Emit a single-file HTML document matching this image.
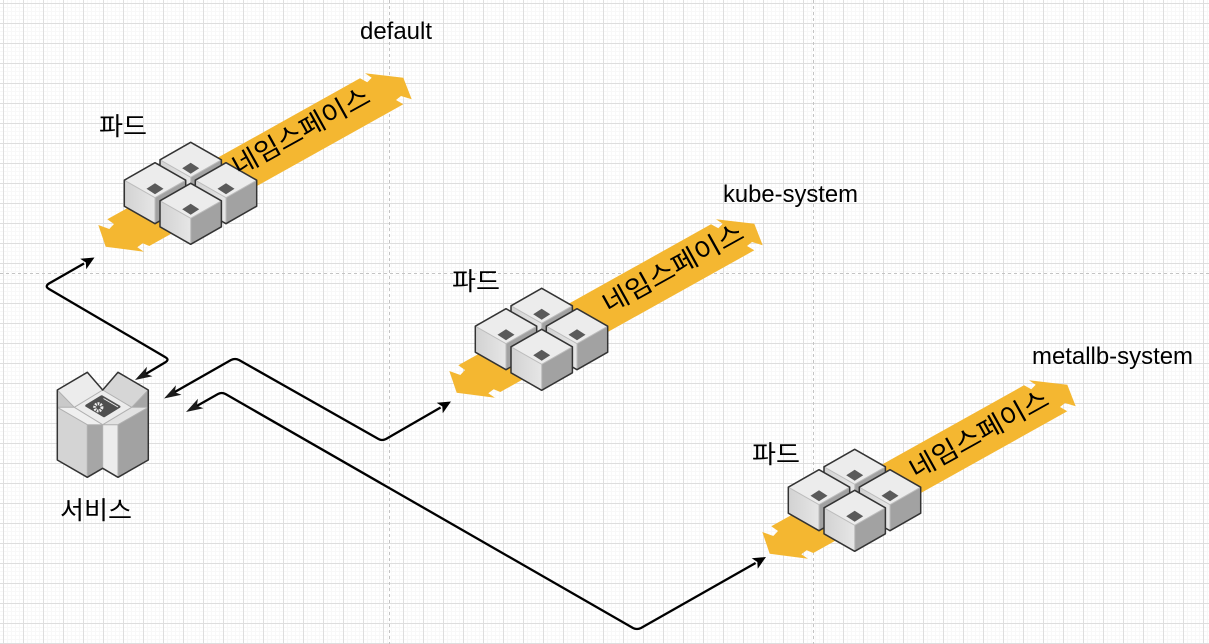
<!DOCTYPE html>
<html><head><meta charset="utf-8">
<style>
html,body{margin:0;padding:0;background:#fff}
svg{display:block}
text{font-family:"Liberation Sans","Noto Sans CJK KR",sans-serif;fill:#000}
.k{font-family:"Noto Sans CJK KR","NanumGothic",sans-serif;font-size:25px;font-weight:400}
.b{font-family:"Noto Sans CJK KR","NanumGothic",sans-serif;font-size:26px;font-weight:400}
.e{font-size:24px}
</style></head>
<body>
<svg width="1209" height="644" viewBox="0 0 1209 644" xmlns="http://www.w3.org/2000/svg">
<defs>
<pattern id="grid" width="20" height="20" patternUnits="userSpaceOnUse" x="3" y="3">
<rect width="20" height="20" fill="#fff"/>
<path d="M4.5 0V20M8.5 0V20M12.5 0V20M16.5 0V20M0 4.5H20M0 8.5H20M0 12.5H20M0 16.5H20" stroke="#f8f8f8" stroke-width="1" fill="none"/>
<path d="M.5 0V20M0 .5H20" stroke="#dedede" stroke-width="1" fill="none"/>
</pattern>
<linearGradient id="lf" x1="0" y1="0" x2="1" y2="0"><stop offset="0" stop-color="#d2d2d2"/><stop offset="1" stop-color="#e6e6e6"/></linearGradient>
<g id="cube">
<polygon points="0,0 -30.7,17.5 0,35 30.7,17.5" fill="#ececec"/>
<polygon points="-30.7,17.5 0,35 0,61 -30.7,43.5" fill="url(#lf)"/>
<polygon points="30.7,17.5 0,35 0,61 30.7,43.5" fill="#a2a2a2"/>
<polygon points="0,20.5 8.5,26 0,31.5 -8.5,26" fill="#5a5a5a"/>
<path d="M-30.7 17.5L0 35L30.7 17.5M0 35V61" fill="none" stroke="#bdbdbd" stroke-width="1"/>
<polygon points="0,0 -30.7,17.5 -30.7,43.5 0,61 30.7,43.5 30.7,17.5" fill="none" stroke="#333" stroke-width="1.5" stroke-linejoin="round"/>
</g>
<g id="pod">
<polygon points="98.3,225 109.3,229 114,224 107.3,219.3 360,78.3 367.3,82.3 371.7,77.7 365,73.3 403.3,77.7 411.7,99.3 401,96 396,100 403.3,104.3 149.3,246 142.7,243.3 137.3,247.3 144,251.7 105.7,246.7" fill="#f4b731"/>
<use href="#cube" x="190.7" y="142.3"/>
<use href="#cube" x="155" y="162.7"/>
<use href="#cube" x="226" y="162.7"/>
<use href="#cube" x="190.7" y="183.3"/>
</g>
<g id="ah"><polygon points="0,0 -17,-5.5 -12.5,0 -17,5.5" fill="#1a1a1a"/></g>
<g id="ah2"><polygon points="0,0 -13,-6 -10,0 -13,6" fill="#000"/></g>
</defs>
<rect width="1209" height="644" fill="url(#grid)"/>
<path d="M389.5 0V644M813.5 0V644M0 273.5H1209" stroke="#c4c4c4" stroke-width="1" stroke-dasharray="3 3" fill="none"/>

<use href="#pod"/>
<text class="b" textLength="153" lengthAdjust="spacingAndGlyphs" text-anchor="middle" transform="translate(301,131) rotate(-29) translate(0,9)">네임스페이스</text>
<text class="k" x="99" y="135" textLength="48" lengthAdjust="spacingAndGlyphs">파드</text>
<text class="e" x="360" y="39" textLength="72" lengthAdjust="spacingAndGlyphs">default</text>

<use href="#pod" x="351" y="146"/>
<text class="b" textLength="157" lengthAdjust="spacingAndGlyphs" text-anchor="middle" transform="translate(673,268) rotate(-29) translate(0,9)">네임스페이스</text>
<text class="k" x="452" y="290" textLength="48" lengthAdjust="spacingAndGlyphs">파드</text>
<text class="e" x="723" y="202" textLength="135" lengthAdjust="spacingAndGlyphs">kube-system</text>

<use href="#pod" x="664" y="307"/>
<text class="b" textLength="155" lengthAdjust="spacingAndGlyphs" text-anchor="middle" transform="translate(979,434) rotate(-29) translate(0,9)">네임스페이스</text>
<text class="k" x="752" y="463" textLength="48" lengthAdjust="spacingAndGlyphs">파드</text>
<text class="e" x="1032" y="364" textLength="161" lengthAdjust="spacingAndGlyphs">metallb-system</text>

<!-- service box -->
<g stroke-linejoin="round">
<polygon points="57.3,390 87.3,372.3 102.7,390 74.3,407.3" fill="#ececec"/>
<polygon points="102.7,390 118,372.3 148.3,390 131.7,407.3" fill="#d6d6d6"/>
<polygon points="57.3,390 74.3,407.3 57.3,407.3" fill="#c9c9c9"/>
<polygon points="148.3,390 131.7,407.3 148.3,407.3" fill="#a6a6a6"/>
<polygon points="102.7,390 74.3,407.3 102.7,424.7 131.7,407.3" fill="#ececec"/>
<polygon points="57.3,407.3 74.3,407.3 102.7,424.7 87.3,424.7" fill="#efefef"/>
<polygon points="148.3,407.3 131.7,407.3 102.7,424.7 118,424.7" fill="#e2e2e2"/>
<polygon points="57.3,407.3 87.3,424.7 87.3,477.3 57.3,460" fill="#d4d4d4"/>
<polygon points="87.3,424.7 102.7,424.7 102.7,468.3 87.3,477.3" fill="#a6a6a6"/>
<polygon points="102.7,424.7 118,424.7 118,477.3 102.7,468.3" fill="#ececec"/>
<polygon points="118,424.7 148.3,407.3 148.3,460 118,477.3" fill="#a2a2a2"/>
<path d="M57.3 390L74.3 407.3M148.3 390L131.7 407.3M57.3 407.3H74.3L102.7 424.7L131.7 407.3H148.3M57.3 407.3L87.3 424.7H118L148.3 407.3M87.3 424.7V477.3M118 424.7V477.3M102.7 424.7V468.3M74.3 407.3L102.7 390L131.7 407.3" fill="none" stroke="#b0b0b0" stroke-width="1"/>
<polygon points="57.3,390 87.3,372.3 102.7,390 118,372.3 148.3,390 148.3,460 118,477.3 102.7,468.3 87.3,477.3 57.3,460" fill="none" stroke="#333" stroke-width="1.5"/>
<polygon points="86.5,405.7 101.7,396.5 119.2,406.7 104,416" fill="#4f4f4f" stroke="#4f4f4f" stroke-width="2.5"/>
<path d="M103.5 398.5L118 407" stroke="#eee" stroke-width="1" fill="none"/>
<circle cx="98.3" cy="407.3" r="3.6" fill="none" stroke="#eee" stroke-width="3" stroke-dasharray="1.7 1"/>
</g>
<text class="k" x="60" y="519" textLength="72" lengthAdjust="spacingAndGlyphs">서비스</text>

<!-- connectors -->
<g fill="none" stroke="#000" stroke-width="2.3">
<path d="M84 263.5L49 283.5Q44.5 286.5 49 289L165 357Q170 359.5 165 362.5L144 375"/>
<path d="M173 393L231 360Q235 358 239 360L378.5 439Q382 441 386 439L440.6 407.5"/>
<path d="M195 407L218 394Q221.7 392 225.5 394L633 628Q637 630 641 628L755.6 563"/>
</g>
<use href="#ah2" transform="translate(94.5,257.5) rotate(-30)"/>
<use href="#ah" transform="translate(135,380) rotate(150)"/>
<use href="#ah" transform="translate(164,398.5) rotate(150)"/>
<use href="#ah" transform="translate(186,412) rotate(150)"/>
<use href="#ah2" transform="translate(451,401.5) rotate(-30)"/>
<use href="#ah2" transform="translate(766,557) rotate(-30)"/>
</svg>
</body></html>
